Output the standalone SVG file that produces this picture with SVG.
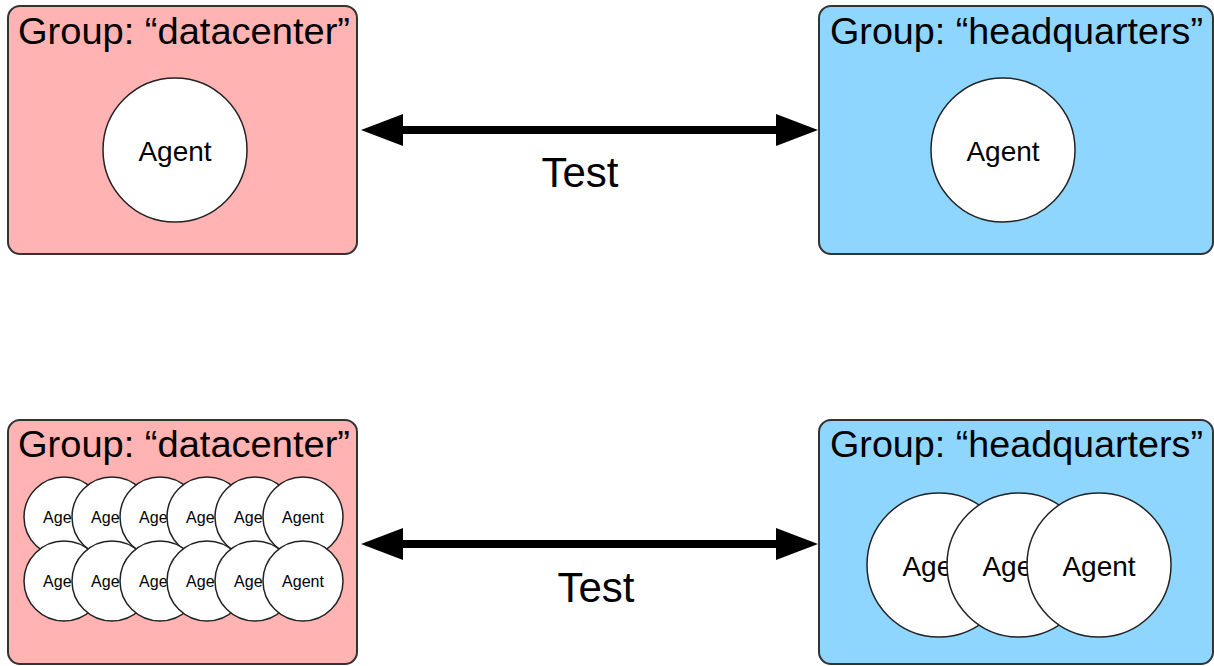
<svg xmlns="http://www.w3.org/2000/svg" width="1214" height="666" viewBox="0 0 1214 666">
  <style>
    .grp-dc { fill: #ffb3b3; stroke: #333333; stroke-width: 2; }
    .grp-hq { fill: #8fd6ff; stroke: #333333; stroke-width: 2; }
    .agent { fill: #ffffff; stroke: #222222; stroke-width: 1.5; }
    .title { font-family: "Liberation Sans", Arial, Helvetica, sans-serif; font-size: 37px; fill: #000; }
    .agent-lg { font-family: "Liberation Sans", Arial, Helvetica, sans-serif; font-size: 28px; fill: #000; text-anchor: middle; }
    .agent-sm { font-family: "Liberation Sans", Arial, Helvetica, sans-serif; font-size: 16px; fill: #000; text-anchor: middle; }
    .label { font-family: "Liberation Sans", Arial, Helvetica, sans-serif; font-size: 42px; fill: #000; text-anchor: middle; }
    .conn { stroke: #000; stroke-width: 8; fill: none; }
  </style>
  <defs>
    <marker id="head" viewBox="0 0 42 32" refX="1" refY="16" markerUnits="userSpaceOnUse" markerWidth="42" markerHeight="32" orient="auto-start-reverse">
      <path d="M0,0 L42,16 L0,32 z" fill="#000"/>
    </marker>
  </defs>

  <!-- Top row -->
  <g id="dc-top">
    <rect class="grp-dc" x="8" y="6" width="349" height="248" rx="12" ry="12"/>
    <text class="title" x="18" y="44" textLength="332" lengthAdjust="spacingAndGlyphs">Group: “datacenter”</text>
    <g id="dc-top-agent">
      <circle class="agent" cx="175" cy="150" r="72"/>
      <text class="agent-lg" x="175" y="161">Agent</text>
    </g>
  </g>

  <g id="hq-top">
    <rect class="grp-hq" x="819" y="6" width="394" height="248" rx="12" ry="12"/>
    <text class="title" x="830" y="44" textLength="373" lengthAdjust="spacingAndGlyphs">Group: “headquarters”</text>
    <g id="hq-top-agent">
      <circle class="agent" cx="1003" cy="150" r="72"/>
      <text class="agent-lg" x="1003" y="161">Agent</text>
    </g>
  </g>

  <!-- Bottom row -->
  <g id="dc-bottom">
    <rect class="grp-dc" x="8" y="420" width="349" height="244" rx="12" ry="12"/>
    <text class="title" x="18" y="457" textLength="332" lengthAdjust="spacingAndGlyphs">Group: “datacenter”</text>
    <g id="dc-agents-row1">
      <g id="dc-a1"><circle class="agent" cx="64" cy="517" r="40"/><text class="agent-sm" x="64" y="523">Agent</text></g>
      <g id="dc-a2"><circle class="agent" cx="112" cy="517" r="40"/><text class="agent-sm" x="112" y="523">Agent</text></g>
      <g id="dc-a3"><circle class="agent" cx="160" cy="517" r="40"/><text class="agent-sm" x="160" y="523">Agent</text></g>
      <g id="dc-a4"><circle class="agent" cx="207" cy="517" r="40"/><text class="agent-sm" x="207" y="523">Agent</text></g>
      <g id="dc-a5"><circle class="agent" cx="255" cy="517" r="40"/><text class="agent-sm" x="255" y="523">Agent</text></g>
      <g id="dc-a6"><circle class="agent" cx="303" cy="517" r="40"/><text class="agent-sm" x="303" y="523">Agent</text></g>
    </g>
    <g id="dc-agents-row2">
      <g id="dc-b1"><circle class="agent" cx="64" cy="581" r="40"/><text class="agent-sm" x="64" y="587">Agent</text></g>
      <g id="dc-b2"><circle class="agent" cx="112" cy="581" r="40"/><text class="agent-sm" x="112" y="587">Agent</text></g>
      <g id="dc-b3"><circle class="agent" cx="160" cy="581" r="40"/><text class="agent-sm" x="160" y="587">Agent</text></g>
      <g id="dc-b4"><circle class="agent" cx="207" cy="581" r="40"/><text class="agent-sm" x="207" y="587">Agent</text></g>
      <g id="dc-b5"><circle class="agent" cx="255" cy="581" r="40"/><text class="agent-sm" x="255" y="587">Agent</text></g>
      <g id="dc-b6"><circle class="agent" cx="303" cy="581" r="40"/><text class="agent-sm" x="303" y="587">Agent</text></g>
    </g>
  </g>

  <g id="hq-bottom">
    <rect class="grp-hq" x="819" y="420" width="394" height="244" rx="12" ry="12"/>
    <text class="title" x="830" y="457" textLength="373" lengthAdjust="spacingAndGlyphs">Group: “headquarters”</text>
    <g id="hq-a1"><circle class="agent" cx="939" cy="565" r="72"/><text class="agent-lg" x="939" y="576">Agent</text></g>
    <g id="hq-a2"><circle class="agent" cx="1019" cy="565" r="72"/><text class="agent-lg" x="1019" y="576">Agent</text></g>
    <g id="hq-a3"><circle class="agent" cx="1099" cy="565" r="72"/><text class="agent-lg" x="1099" y="576">Agent</text></g>
  </g>

  <!-- Connectors -->
  <g id="connectors">
    <line class="conn" x1="402" y1="130" x2="777" y2="130" marker-start="url(#head)" marker-end="url(#head)"/>
    <text class="label" x="580" y="187">Test</text>
    <line class="conn" x1="402" y1="544" x2="777" y2="544" marker-start="url(#head)" marker-end="url(#head)"/>
    <text class="label" x="596" y="602">Test</text>
  </g>
</svg>
